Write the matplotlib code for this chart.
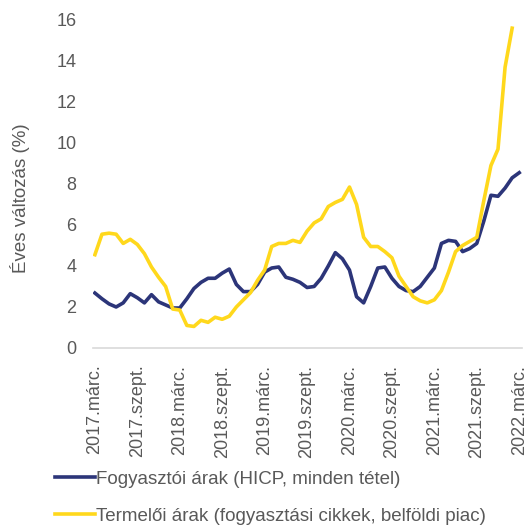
import matplotlib.pyplot as plt

plt.rcParams['font.family'] = ['Liberation Sans', 'DejaVu Sans']

# havi adatok, 2017. március - 2022. március
hicp = [2.68, 2.4, 2.15, 2.0, 2.2, 2.65, 2.45, 2.2, 2.6, 2.25, 2.1, 1.95,
        1.95, 2.4, 2.9, 3.2, 3.4, 3.4, 3.65, 3.85, 3.1, 2.75, 2.75, 3.1,
        3.7, 3.9, 3.95, 3.45, 3.35, 3.2, 2.95, 3.0, 3.4, 4.0, 4.65, 4.35,
        3.8, 2.5, 2.2, 3.0, 3.9, 3.95, 3.4, 3.0, 2.8, 2.75, 3.0, 3.45,
        3.9, 5.1, 5.25, 5.2, 4.7, 4.85, 5.1, 6.2, 7.45, 7.4, 7.8, 8.3,
        8.55]
termeloi = [4.55, 5.55, 5.6, 5.55, 5.1, 5.3, 5.05, 4.6, 3.95, 3.45, 3.0, 1.9,
            1.85, 1.1, 1.05, 1.35, 1.25, 1.5, 1.4, 1.55, 2.0, 2.35, 2.7, 3.3,
            3.8, 4.95, 5.1, 5.1, 5.25, 5.15, 5.7, 6.1, 6.3, 6.9, 7.1, 7.25,
            7.85, 7.0, 5.4, 4.95, 4.95, 4.7, 4.4, 3.5, 3.0, 2.5, 2.3, 2.2,
            2.35, 2.8, 3.7, 4.7, 5.0, 5.2, 5.4, 7.2, 8.9, 9.7, 13.7, 15.6]
tick_labels = ['2017.márc.', '2017.szept.', '2018.márc.', '2018.szept.',
               '2019.márc.', '2019.szept.', '2020.márc.', '2020.szept.',
               '2021.márc.', '2021.szept.', '2022.márc.']

navy = '#2c3579'
yellow = '#ffd81c'
gray = '#595959'

fig = plt.figure(figsize=(5.28, 5.27), dpi=100)
ax = fig.add_axes([0.176, 0.3397, 0.813, 0.6224])

l1, = ax.plot(range(len(hicp)), hicp, color=navy, lw=2.6,
              label='Fogyasztói árak (HICP, minden tétel)')
l2, = ax.plot(range(len(termeloi)), termeloi, color=yellow, lw=2.6,
              label='Termelői árak (fogyasztási cikkek, belföldi piac)')

ax.set_xlim(-0.28, 60.42)
ax.set_ylim(0, 16)
ax.set_yticks(range(0, 17, 2))
ax.set_xticks(range(0, 61, 6))
ax.set_xticklabels(tick_labels, rotation=90)
ax.tick_params(axis='y', length=0, pad=12, labelsize=13, labelcolor=gray)
ax.tick_params(axis='x', length=0, pad=12, labelsize=13, labelcolor=gray)
for s in ['left', 'top', 'right']:
    ax.spines[s].set_visible(False)
ax.spines['bottom'].set_color('#d9d9d9')
ax.spines['bottom'].set_linewidth(1.2)

fig.text(0.038, 0.624, 'Éves változás (%)', rotation=90, ha='center',
         va='center', fontsize=13.5, color=gray)

fig.legend(handles=[l1, l2], loc='upper left', bbox_to_anchor=(0.105, 0.107),
           frameon=False, fontsize=13.5, labelcolor=gray, handlelength=2.1,
           handletextpad=0.05, labelspacing=1.07, borderaxespad=0,
           borderpad=0)

fig.savefig('out.png', dpi=100)
